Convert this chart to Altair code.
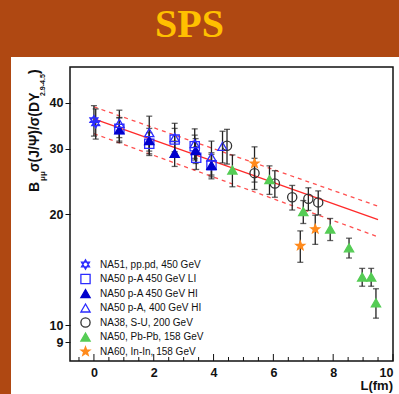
import math
import altair as alt
import pandas as pd

# ---------------- data ----------------
series_names = [
    "NA51, pp.pd, 450 GeV",
    "NA50 p-A 450 GeV LI",
    "NA50 p-A 450 GeV HI",
    "NA50 p-A, 400 GeV HI",
    "NA38, S-U, 200 GeV",
    "NA50, Pb-Pb, 158 GeV",
    "NA60, In-In, 158 GeV",
]

na51_L = [0.0, 0.06]
na51_val = [35.9, 35.2]
na51_err = [3.4, 3.3]

na50li_L = [0.85, 1.85, 2.7, 3.37, 3.42, 3.93]
na50li_val = [34.0, 31.0, 31.8, 30.5, 28.4, 27.1]
na50li_err = [2.5, 2.2, 2.3, 2.2, 2.0, 1.9]

na50hi_L = [0.85, 1.85, 2.7, 3.4, 3.93]
na50hi_val = [33.8, 31.6, 29.2, 29.7, 27.1]
na50hi_err = [2.6, 2.5, 2.3, 2.3, 2.2]

na50_400_L = [0.85, 1.85, 2.7, 3.37, 3.93, 4.3]
na50_400_val = [35.2, 33.2, 32.2, 31.0, 28.5, 30.5]
na50_400_err = [3.0, 3.6, 3.0, 3.0, 3.0, 3.0]

na38_L = [4.45, 5.37, 6.05, 6.63, 7.17, 7.5]
na38_val = [30.6, 25.8, 24.2, 22.2, 22.0, 21.5]
na38_err = [3.3, 2.5, 2.0, 1.7, 1.55, 1.6]

pbpb_L = [4.63, 5.87, 7.0, 7.9, 8.53, 8.97, 9.27, 9.43]
pbpb_val = [26.3, 24.8, 20.3, 18.2, 16.2, 13.5, 13.5, 11.5]
pbpb_err = [2.6, 2.2, 1.45, 1.25, 1.0, 0.75, 0.75, 1.05]

inin_L = [5.37, 6.9, 7.4]
inin_val = [27.4, 16.4, 18.2]
inin_err = [3.0, 1.6, 1.65]

fit_L = [0.0, 9.5]
fit_mid = [36.2, 19.3]
fit_hi = [39.0, 21.0]
fit_lo = [33.0, 17.35]

x_major = [0, 2, 4, 6, 8, 10]
x_minor = [-0.5, 0.5, 1.0, 1.5, 2.5, 3.0, 3.5, 4.5, 5.0, 5.5, 6.5, 7.0, 7.5, 8.5, 9.0, 9.5]
y_ticks = [9, 10, 20, 30, 40]

# ---------------- styles ----------------
W, H = 323, 294
BROWN = "#AF4812"
BLUE = "#2B2BFF"
DBLUE = "#0000CC"
GREEN = "#55CC55"
ORANGE = "#FF8A1C"

def star_path(n=5, inner=0.42):
    pts = []
    for i in range(2 * n):
        a = -math.pi / 2 + i * math.pi / n
        r = 1.0 if i % 2 == 0 else inner
        pts.append(f"{r*math.cos(a):.3f},{r*math.sin(a):.3f}")
    return "M" + "L".join(pts) + "Z"

hexagram = "M0,-1L0.866,0.5L-0.866,0.5ZM0,1L-0.866,-0.5L0.866,-0.5Z"

stroke_range = [BLUE, BLUE, DBLUE, BLUE, "#333333", GREEN, ORANGE]
fill_range = ["transparent", "transparent", DBLUE, "transparent", "transparent", GREEN, ORANGE]
shape_range = [hexagram, "square", "triangle-up", "triangle-up", "circle", "triangle-up", star_path()]

# ---------------- tables ----------------
groups = [
    (na51_L, na51_val, na51_err),
    (na50li_L, na50li_val, na50li_err),
    (na50hi_L, na50hi_val, na50hi_err),
    (na50_400_L, na50_400_val, na50_400_err),
    (na38_L, na38_val, na38_err),
    (pbpb_L, pbpb_val, pbpb_err),
    (inin_L, inin_val, inin_err),
]
rows = []
for name, (Ls, vs, es) in zip(series_names, groups):
    for L, v, e in zip(Ls, vs, es):
        rows.append({"series": name, "L": L, "v": v, "lo": v - e, "hi": v + e})
pts = pd.DataFrame(rows)

fit_df = pd.DataFrame({"L": fit_L, "mid": fit_mid, "hi": fit_hi, "lo": fit_lo})
tick_df = pd.DataFrame({"t": x_major + x_minor,
                        "major": [1] * len(x_major) + [0] * len(x_minor)})

xs = alt.Scale(domain=[-0.8, 10], nice=False, zero=False)
ys = alt.Scale(type="log", domain=[8, 50], nice=False)

X = alt.X("L:Q", scale=xs,
          axis=alt.Axis(values=x_major, ticks=False, domain=False, grid=False, title=None,
                        labelFont="Liberation Sans", labelFontWeight="bold", labelFontSize=12.5,
                        labelColor="#111", labelPadding=5, zindex=1, format="d"))
Y = alt.Y("v:Q", scale=ys,
          axis=alt.Axis(values=y_ticks, tickSize=5, tickColor="#111", domain=False, grid=False,
                        title=None, labelFont="Liberation Sans", labelFontWeight="bold",
                        labelFontSize=12.5, labelColor="#111", labelPadding=2, zindex=1, format="d"))

one = pd.DataFrame({"a": [0]})

panel = alt.Chart(one).mark_rect(color="white").encode(
    x=alt.value(11 - 70), x2=alt.value(399 - 70), y=alt.value(57 - 67), y2=alt.value(394 - 67))

fit_solid = alt.Chart(fit_df).mark_line(color="#FF2A2A", strokeWidth=1.3).encode(
    x=alt.X("L:Q", scale=xs), y=alt.Y("mid:Q", scale=ys))
fit_up = alt.Chart(fit_df).mark_line(color="#FF5050", strokeWidth=1.3, strokeDash=[4, 4]).encode(
    x=alt.X("L:Q", scale=xs), y=alt.Y("hi:Q", scale=ys))
fit_dn = alt.Chart(fit_df).mark_line(color="#FF5050", strokeWidth=1.3, strokeDash=[4, 4]).encode(
    x=alt.X("L:Q", scale=xs), y=alt.Y("lo:Q", scale=ys))

ebar = alt.Chart(pts).mark_rule(color="#222", strokeWidth=1.3).encode(
    x=alt.X("L:Q", scale=xs), y=alt.Y("lo:Q", scale=ys), y2="hi:Q")
cap_lo = alt.Chart(pts).mark_tick(color="#222", orient="horizontal", size=6, thickness=1.3).encode(
    x=alt.X("L:Q", scale=xs), y=alt.Y("lo:Q", scale=ys))
cap_hi = alt.Chart(pts).mark_tick(color="#222", orient="horizontal", size=6, thickness=1.3).encode(
    x=alt.X("L:Q", scale=xs), y=alt.Y("hi:Q", scale=ys))

leg = alt.Legend(orient="none", legendX=10, legendY=192, title=None, padding=0,
                 symbolSize=85, symbolStrokeWidth=1.3, labelFont="Liberation Sans",
                 labelFontSize=10, labelColor="#111", labelLimit=0, labelOffset=9,
                 rowPadding=-0.5)

points = alt.Chart(pts).mark_point(filled=False, size=85, strokeWidth=1.3, opacity=1).encode(
    x=X, y=Y,
    color=alt.Color("series:N", scale=alt.Scale(domain=series_names, range=stroke_range), legend=leg),
    fill=alt.Fill("series:N", scale=alt.Scale(domain=series_names, range=fill_range), legend=leg),
    shape=alt.Shape("series:N", scale=alt.Scale(domain=series_names, range=shape_range), legend=leg),
)

ticks_major = alt.Chart(tick_df).transform_filter("datum.major == 1").mark_rule(
    color="#111", strokeWidth=1).encode(
    x=alt.X("t:Q", scale=xs), y=alt.value(H), y2=alt.value(H - 7))
ticks_minor = alt.Chart(tick_df).transform_filter("datum.major == 0").mark_rule(
    color="#111", strokeWidth=1).encode(
    x=alt.X("t:Q", scale=xs), y=alt.value(H), y2=alt.value(H - 4))

frame = alt.Chart(one).mark_rect(fill="transparent", stroke="#111", strokeWidth=1.5).encode(
    x=alt.value(0), x2=alt.value(W), y=alt.value(0), y2=alt.value(H))

def txt(s, x, y, size, angle=0, align="left", baseline="middle", font="Liberation Sans",
        weight="bold", color="#111"):
    kw = dict(text=s, fontSize=size, font=font, fontWeight=weight, color=color,
              align=align, baseline=baseline)
    if angle:
        kw["angle"] = angle
    return alt.Chart(one).mark_text(**kw).encode(x=alt.value(x), y=alt.value(y))

title = txt("SPS", 189.5 - 70, 37 - 67, 40, align="center", baseline="alphabetic",
            font="Liberation Serif", color="#FFC000")
xlab = txt("L(fm)", W, 386 - 67, 13, align="right")

# y-axis title pieces (rotated)
yt1 = txt("B", 35 - 70, 192 - 67, 14, angle=270)
yt2 = txt("μμ", 43 - 70, 181 - 67, 8, angle=270)
yt3 = txt("σ(J/Ψ)/σ(DY", 35 - 70, 172 - 67, 14, angle=270)
yt4 = txt("2.9-4.5", 43 - 70, 96 - 67, 7, angle=270)
yt5 = txt(")", 35 - 70, 74 - 67, 14, angle=270)

chart = alt.layer(
    panel, fit_solid, fit_up, fit_dn, ebar, cap_lo, cap_hi, points,
    ticks_major, ticks_minor, frame, title, xlab, yt1, yt2, yt3, yt4, yt5
).properties(
    width=W, height=H,
    padding={"left": 70, "top": 67, "right": 6, "bottom": 33},
    autosize=alt.AutoSizeParams(type="none"),
    background=BROWN,
).configure_view(stroke=None)

chart.save("out.html", embed_options={"renderer": "svg", "actions": False})
